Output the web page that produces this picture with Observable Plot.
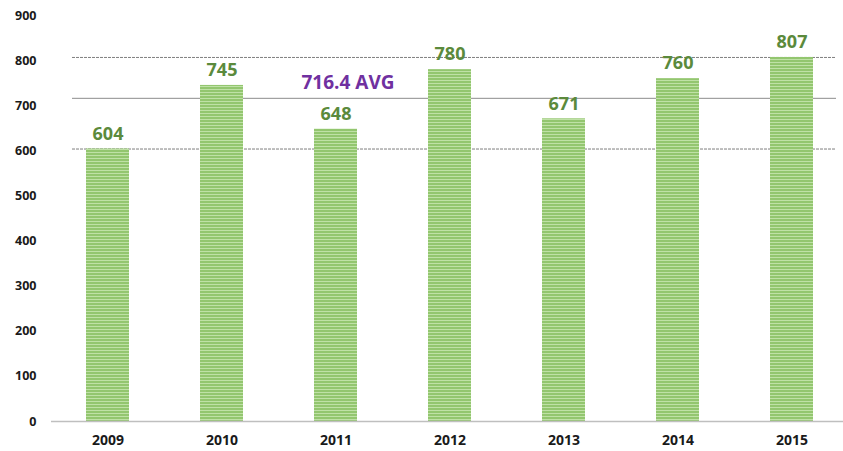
<!DOCTYPE html>
<html>
<head>
<meta charset="utf-8">
<script src="https://cdn.jsdelivr.net/npm/d3@7"></script>
<script src="https://cdn.jsdelivr.net/npm/@observablehq/plot@0.6"></script>
<style>
  html, body { margin: 0; padding: 0; background: #fff; }
  #chart svg { display: block; }
</style>
</head>
<body>
<div id="chart"></div>
<script>
const years = ["2009", "2010", "2011", "2012", "2013", "2014", "2015"];
const values = [604, 745, 648, 780, 671, 760, 807];
const yTicks = [0, 100, 200, 300, 400, 500, 600, 700, 800, 900];
const avgValue = 716.4;
const avgLabel = "716.4 AVG";
const minValue = 604;
const maxValue = 807;

const data = years.map((y, i) => ({year: y, value: values[i]}));
const font = "'Open Sans', Lato, sans-serif";

const chart = Plot.plot({
  width: 843,
  height: 451,
  marginLeft: 51,
  marginRight: 0,
  marginTop: 15,
  marginBottom: 30,
  style: {fontFamily: font, background: "#fff"},
  x: {domain: years, range: [51, 849], paddingInner: 0.62, paddingOuter: 0.31, label: null},
  y: {domain: [0, 900], label: null},
  marks: [
    Plot.ruleY([minValue, maxValue], {stroke: "#7f7f7f", strokeWidth: 1, strokeDasharray: "3,1"}),
    Plot.ruleY([avgValue], {stroke: "#8c8c8c", strokeWidth: 1}),
    Plot.barY(data, {x: "year", y: "value", fill: "url(#barStripes)"}),
    Plot.ruleY([0], {stroke: "#bfbfbf", strokeWidth: 1.5}),
    Plot.text(data, {x: "year", y: "value", text: d => String(d.value), dy: -15, fill: "#5b8a3c", fontSize: 18, fontWeight: "bold"}),
    Plot.text([avgValue], {x: () => "2011", y: d => d, text: () => avgLabel, dy: -15, dx: 12, fill: "#7030a0", fontSize: 19, fontWeight: "bold"}),
    Plot.axisY({ticks: yTicks, tickSize: 0, tickPadding: 15, fontSize: 12.5, fontWeight: "bold", fill: "#1a1a1a", label: null, tickFormat: d => String(d)}),
    Plot.axisX({tickSize: 0, tickPadding: 14, fontSize: 14, fontWeight: "bold", fill: "#1a1a1a", label: null})
  ]
});

const svg = d3.select(chart);
const defs = svg.insert("defs", ":first-child");
const pat = defs.append("pattern")
  .attr("id", "barStripes")
  .attr("patternUnits", "userSpaceOnUse")
  .attr("width", 10)
  .attr("height", 3);
pat.append("rect").attr("width", 10).attr("height", 3).attr("fill", "#93c66f");
pat.append("rect").attr("y", 2).attr("width", 10).attr("height", 1).attr("fill", "#bfe1a6");

// reference lines (min / avg / max) span a slightly narrower area than the plot frame
svg.selectAll('g[aria-label="rule"]')
  .filter(function () { return this.getAttribute("stroke") !== "#bfbfbf"; })
  .selectAll("line")
  .attr("x1", 72).attr("x2", 836);

document.getElementById("chart").appendChild(chart);
</script>
</body>
</html>
